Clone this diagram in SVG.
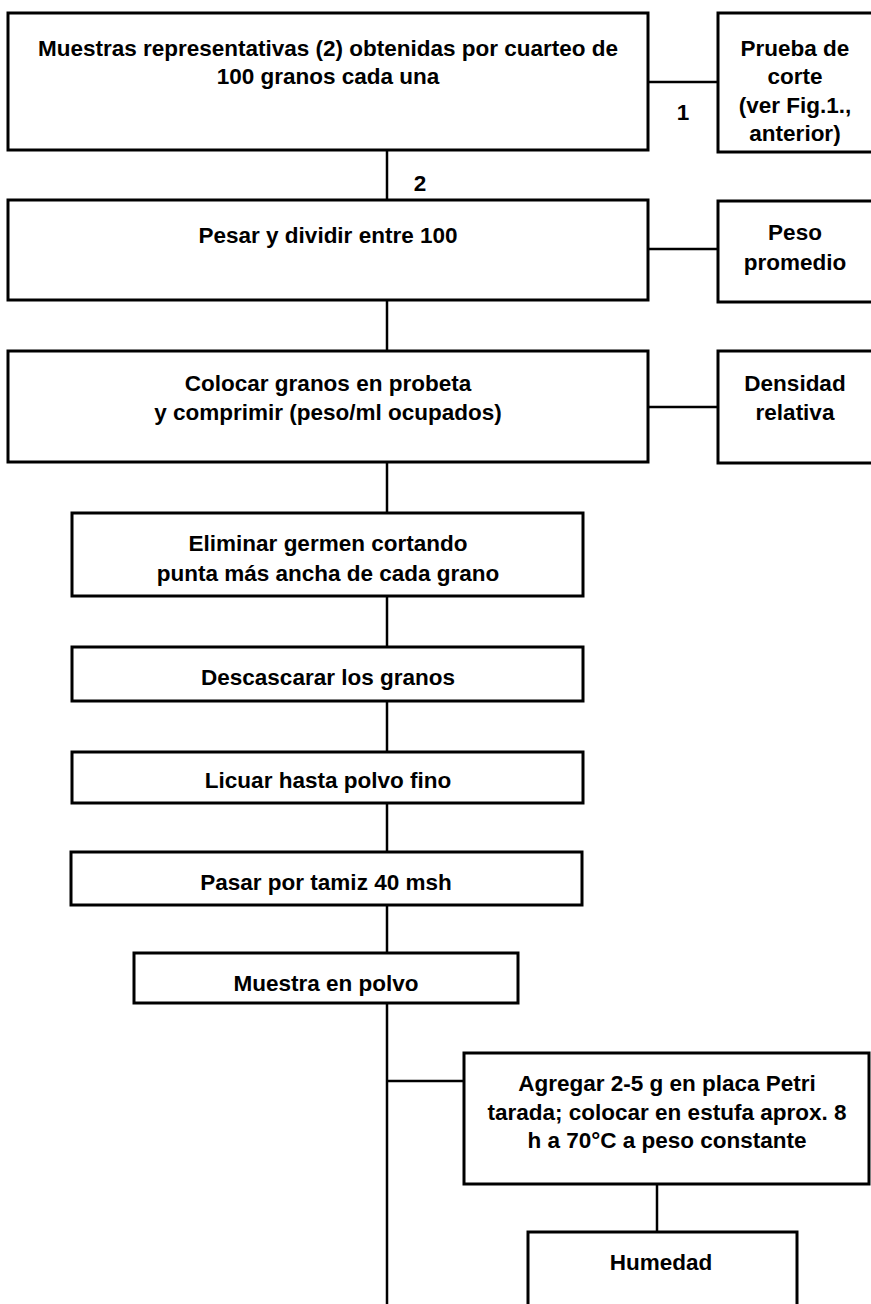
<svg xmlns="http://www.w3.org/2000/svg" width="871" height="1304" viewBox="0 0 871 1304">
<style>
.box{fill:#fff;stroke:#000;stroke-width:3}
.ln{stroke:#000;stroke-width:2.5;fill:none}
text{font-family:"Liberation Sans",Arial,sans-serif;font-weight:bold;font-size:22.5px;fill:#000;text-anchor:middle}
</style>
<rect width="871" height="1304" fill="#fff"/>
<g id="connectors">
<line class="ln" x1="648" y1="82" x2="718" y2="82"/>
<line class="ln" x1="387" y1="150" x2="387" y2="200"/>
<line class="ln" x1="648" y1="249" x2="718" y2="249"/>
<line class="ln" x1="387" y1="300" x2="387" y2="351"/>
<line class="ln" x1="648" y1="407" x2="718" y2="407"/>
<line class="ln" x1="387" y1="462" x2="387" y2="513"/>
<line class="ln" x1="387" y1="596" x2="387" y2="647"/>
<line class="ln" x1="387" y1="701" x2="387" y2="752"/>
<line class="ln" x1="387" y1="803" x2="387" y2="852"/>
<line class="ln" x1="387" y1="905" x2="387" y2="953"/>
<line class="ln" x1="387" y1="1003" x2="387" y2="1304"/>
<line class="ln" x1="387" y1="1081" x2="464" y2="1081"/>
<line class="ln" x1="657" y1="1184" x2="657" y2="1232"/>
<text x="683" y="120">1</text>
<text x="420" y="191">2</text>
</g>
<g id="n1">
<rect class="box" x="8" y="13" width="640" height="137"/>
<text x="328" y="56">Muestras representativas (2) obtenidas por cuarteo de</text>
<text x="328" y="84">100 granos cada una</text>
</g>
<g id="n1b">
<rect class="box" x="718" y="13" width="160" height="139"/>
<text x="795" y="56">Prueba de</text>
<text x="795" y="84">corte</text>
<text x="795" y="113">(ver Fig.1.,</text>
<text x="795" y="141">anterior)</text>
</g>
<g id="n2">
<rect class="box" x="8" y="200" width="640" height="100"/>
<text x="328" y="243">Pesar y dividir entre 100</text>
</g>
<g id="n2b">
<rect class="box" x="718" y="201" width="160" height="101"/>
<text x="795" y="240">Peso</text>
<text x="795" y="270">promedio</text>
</g>
<g id="n3">
<rect class="box" x="8" y="351" width="640" height="111"/>
<text x="328" y="391">Colocar granos en probeta</text>
<text x="328" y="420">y comprimir (peso/ml ocupados)</text>
</g>
<g id="n3b">
<rect class="box" x="718" y="351" width="160" height="112"/>
<text x="795" y="391">Densidad</text>
<text x="795" y="420">relativa</text>
</g>
<g id="n4">
<rect class="box" x="72" y="513" width="511" height="83"/>
<text x="328" y="551">Eliminar germen cortando</text>
<text x="328" y="581">punta más ancha de cada grano</text>
</g>
<g id="n5">
<rect class="box" x="72" y="647" width="511" height="54"/>
<text x="328" y="685">Descascarar los granos</text>
</g>
<g id="n6">
<rect class="box" x="72" y="752" width="511" height="51"/>
<text x="328" y="788">Licuar hasta polvo fino</text>
</g>
<g id="n7">
<rect class="box" x="71" y="852" width="511" height="53"/>
<text x="326" y="890">Pasar por tamiz 40 msh</text>
</g>
<g id="n8">
<rect class="box" x="134" y="953" width="384" height="50"/>
<text x="326" y="991">Muestra en polvo</text>
</g>
<g id="n9">
<rect class="box" x="464" y="1053" width="405" height="131"/>
<text x="667" y="1091">Agregar 2-5 g en placa Petri</text>
<text x="667" y="1120">tarada; colocar en estufa aprox. 8</text>
<text x="667" y="1148">h a 70°C a peso constante</text>
</g>
<g id="n10">
<rect class="box" x="528" y="1232" width="269" height="90"/>
<text x="661" y="1270">Humedad</text>
</g>
</svg>
